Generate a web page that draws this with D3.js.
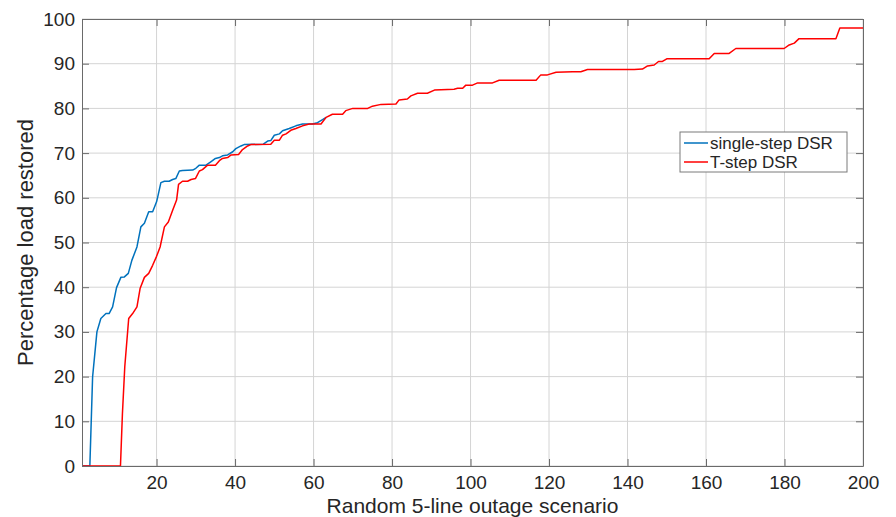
<!DOCTYPE html>
<html>
<head>
<meta charset="utf-8">
<script src="https://cdn.jsdelivr.net/npm/d3@7"></script>
<style>
  html, body { margin: 0; padding: 0; background: #fff; }
  svg { display: block; font-family: "Liberation Sans", Arial, Helvetica, sans-serif; }
</style>
</head>
<body>
<svg width="896" height="517"></svg>
<script>
// single-step DSR, vertices
const singleX = [1, 3.0, 3.7, 4.8, 5.8, 7.1, 7.9, 8.8, 9.8, 10.9, 11.8, 12.8, 13.7, 15, 16, 16.9, 18, 19, 20, 20.3, 21.1, 22, 23.2, 24.1, 24.9, 25.8, 26.6, 29.2, 30, 30.9, 32.6, 33.9, 35, 36, 36.8, 38.1, 39.4, 40.2, 41.5, 42.3, 47.2, 48.3, 49.1, 50, 51.3, 52.1, 53.8, 55.5, 57.2, 59.7, 61, 62.3, 63.2];
const singleY = [0, 0, 19.9, 30, 33, 34.1, 34.1, 35.6, 39.9, 42.2, 42.3, 43.1, 46, 49, 53.5, 54.3, 56.9, 56.9, 59.1, 60.2, 63.4, 63.7, 63.7, 64.1, 64.3, 66, 66.1, 66.2, 66.6, 67.3, 67.3, 68.1, 68.8, 69, 69.4, 69.6, 70.3, 71, 71.6, 71.9, 72, 72.7, 72.8, 74, 74.3, 75, 75.5, 76.1, 76.5, 76.5, 76.8, 77.5, 78];

// T-step DSR
const tstepX = [1, 10.8, 11.3, 11.9, 12.9, 13.9, 15, 15.8, 16.9, 18, 19, 20, 20.9, 22, 23, 24.1, 25.1, 25.6, 26.6, 27.9, 28.8, 29.9, 30.9, 31.7, 33, 35, 36, 36.8, 38.1, 39, 40.9, 41.9, 43.2, 44, 49.1, 50, 51.3, 52.1, 53, 54.2, 55.5, 57.2, 58.9, 61.9, 63.2, 64.8, 67.4, 68.2, 70, 73.8, 75, 77.2, 81, 81.8, 83.9, 84.8, 86.5, 89, 90.8, 95.8, 96.7, 98, 98.8, 100.5, 101.8, 105.6, 107.3, 116.7, 117.9, 119.6, 121.8, 126, 128.1, 129.8, 141.7, 143.8, 145.1, 146.8, 147.9, 148.9, 150, 160.8, 162.1, 165.9, 167.6, 179.9, 181.2, 182.5, 183.7, 193.1, 194.1, 200];
const tstepY = [0, 0, 11.7, 22.2, 33, 34.1, 35.6, 39.7, 42.2, 43.1, 44.9, 46.9, 49, 53.5, 54.6, 57.2, 59.5, 63, 63.7, 63.7, 64.1, 64.3, 66, 66.3, 67.3, 67.3, 68.3, 68.8, 69, 69.6, 69.7, 70.8, 71.6, 71.9, 72, 72.9, 72.9, 74, 74.3, 75.1, 75.5, 76.1, 76.5, 76.5, 78, 78.7, 78.7, 79.5, 80, 80, 80.5, 80.9, 81, 81.9, 82.1, 82.8, 83.4, 83.4, 84.1, 84.3, 84.5, 84.5, 85.2, 85.2, 85.7, 85.7, 86.3, 86.3, 87.5, 87.5, 88.1, 88.2, 88.2, 88.7, 88.7, 88.8, 89.5, 89.7, 90.5, 90.5, 91.1, 91.1, 92.3, 92.3, 93.4, 93.4, 94.2, 94.6, 95.6, 95.6, 98, 98];

const xTicks = [20, 40, 60, 80, 100, 120, 140, 160, 180, 200];
const yTicks = [0, 10, 20, 30, 40, 50, 60, 70, 80, 90, 100];

const seriesNames = ["single-step DSR", "T-step DSR"];
const seriesColors = ["#0072BD", "#FF0000"];

const margin = { left: 82, right: 33, top: 19, bottom: 51 };
const width = 896, height = 517;
const x0 = margin.left, x1 = width - margin.right;
const y0 = height - margin.bottom, y1 = margin.top;

const x = d3.scaleLinear().domain([1, 200]).range([x0, x1]);
const y = d3.scaleLinear().domain([0, 100]).range([y0, y1]);

const svg = d3.select("svg");
const textColor = "#262626";
const axisColor = "#6a6a6a";
const gridColor = "#d4d4d4";
const tickLen = 7;

// grid
svg.append("g").selectAll("line").data(xTicks).join("line")
  .attr("x1", d => x(d)).attr("x2", d => x(d))
  .attr("y1", y0).attr("y2", y1)
  .attr("stroke", gridColor).attr("stroke-width", 1);
svg.append("g").selectAll("line").data(yTicks).join("line")
  .attr("x1", x0).attr("x2", x1)
  .attr("y1", d => y(d)).attr("y2", d => y(d))
  .attr("stroke", gridColor).attr("stroke-width", 1);

// lines
svg.append("clipPath").attr("id", "plot")
  .append("rect").attr("x", x0).attr("y", y1)
  .attr("width", x1 - x0).attr("height", y0 - y1);

const line = d3.line().x(d => x(d[0])).y(d => y(d[1]));
const series = [d3.zip(singleX, singleY), d3.zip(tstepX, tstepY)];

svg.append("g").attr("clip-path", "url(#plot)")
  .selectAll("path").data(series).join("path")
  .attr("d", line)
  .attr("fill", "none")
  .attr("stroke", (d, i) => seriesColors[i])
  .attr("stroke-width", 1.5)
  .attr("stroke-linejoin", "round");

// axes (box with inward ticks on all sides)
const axBottom = svg.append("g").attr("transform", `translate(0,${y0})`)
  .call(d3.axisBottom(x).tickValues(xTicks).tickSizeInner(-tickLen).tickSizeOuter(0).tickPadding(10));
const axTop = svg.append("g").attr("transform", `translate(0,${y1})`)
  .call(d3.axisTop(x).tickValues(xTicks).tickSizeInner(-tickLen).tickSizeOuter(0).tickFormat(""));
const axLeft = svg.append("g").attr("transform", `translate(${x0},0)`)
  .call(d3.axisLeft(y).tickValues(yTicks).tickSizeInner(-tickLen).tickSizeOuter(0).tickPadding(7));
const axRight = svg.append("g").attr("transform", `translate(${x1},0)`)
  .call(d3.axisRight(y).tickValues(yTicks).tickSizeInner(-tickLen).tickSizeOuter(0).tickFormat(""));

[axBottom, axTop, axLeft, axRight].forEach(g => {
  g.select(".domain").attr("stroke", axisColor);
  g.selectAll(".tick line").attr("stroke", axisColor);
  g.selectAll(".tick text").attr("fill", textColor)
    .style("font-size", "19px").style("font-family", "'Liberation Sans', Arial, sans-serif");
});

// axis labels
svg.append("text")
  .attr("x", (x0 + x1) / 2).attr("y", 513)
  .attr("text-anchor", "middle")
  .attr("fill", textColor).style("font-size", "21px")
  .text("Random 5-line outage scenario");

svg.append("text")
  .attr("transform", `translate(33,${(y0 + y1) / 2}) rotate(-90)`)
  .attr("text-anchor", "middle")
  .attr("fill", textColor).style("font-size", "22px")
  .text("Percentage load restored");

// legend
const legend = svg.append("g").attr("transform", "translate(680,132)");
legend.append("rect")
  .attr("width", 167).attr("height", 40)
  .attr("fill", "#fff").attr("stroke", "#7a7a7a").attr("stroke-width", 1);
const item = legend.selectAll("g.item").data(seriesNames).join("g")
  .attr("class", "item")
  .attr("transform", (d, i) => `translate(0,${11 + i * 19})`);
item.append("line")
  .attr("x1", 4).attr("x2", 28)
  .attr("stroke", (d, i) => seriesColors[i]).attr("stroke-width", 1.5);
item.append("text")
  .attr("x", 30).attr("y", 6)
  .attr("fill", textColor).style("font-size", "17px")
  .text(d => d);
</script>
</body>
</html>
